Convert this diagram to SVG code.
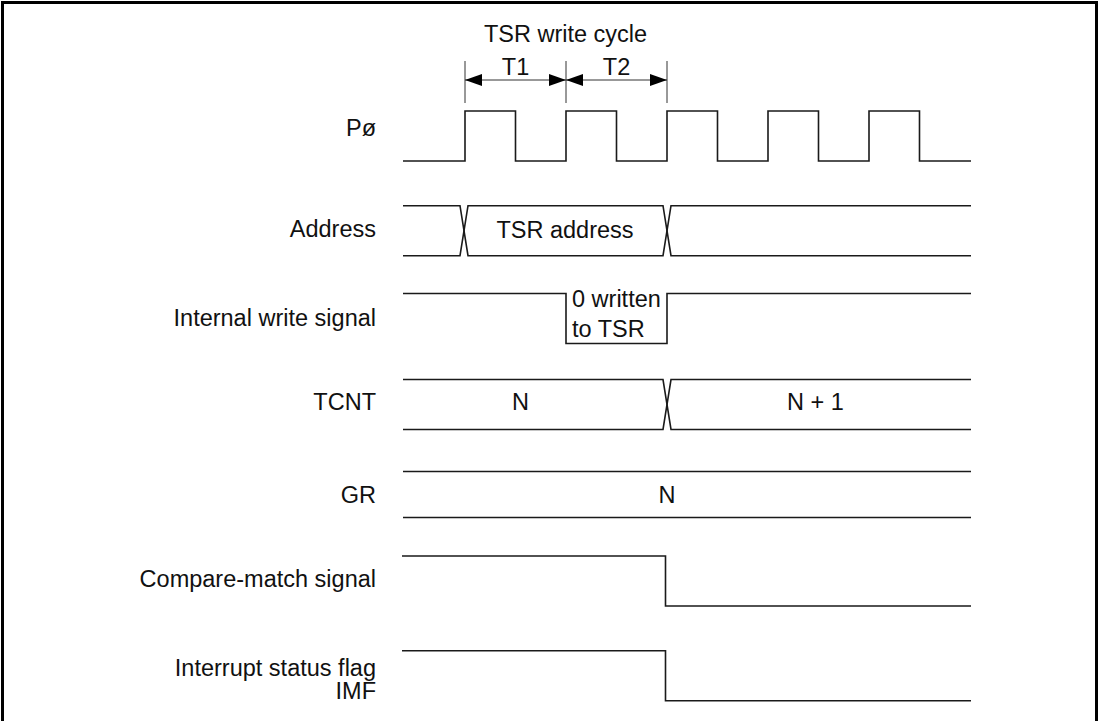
<svg xmlns="http://www.w3.org/2000/svg" width="1102" height="721" viewBox="0 0 1102 721">
<defs>
<style>
.lbl{font-family:"Liberation Sans",Arial,sans-serif;font-size:23.5px;fill:#111;}
.end{text-anchor:end;}
.mid{text-anchor:middle;}
.w{fill:none;stroke:#1a1a1a;stroke-width:1.6;stroke-linejoin:miter;}
.dim{fill:none;stroke:#333;stroke-width:1;}
.frame{fill:none;stroke:#000;stroke-width:3;}
</style>
<marker id="ah" viewBox="0 0 17 12" refX="17" refY="6" markerWidth="17" markerHeight="12" markerUnits="userSpaceOnUse" orient="auto-start-reverse">
<path d="M0,0 L17,6 L0,12 Z" fill="#000"/>
</marker>
</defs>
<rect width="1102" height="721" fill="#fff"/>
<path class="frame" d="M2.5,721 V2.5 H1096.5 V721"/>

<g id="cycle-annotation">
<text class="lbl mid" x="565.5" y="42">TSR write cycle</text>
<text class="lbl mid" x="515.5" y="75">T1</text>
<text class="lbl mid" x="616.5" y="75">T2</text>
</g>

<g id="connectors">
<line class="dim" x1="465" y1="61" x2="465" y2="103"/>
<line class="dim" x1="566" y1="61" x2="566" y2="103"/>
<line class="dim" x1="667" y1="61" x2="667" y2="103"/>
<line class="dim" x1="465" y1="80" x2="566" y2="80" marker-start="url(#ah)" marker-end="url(#ah)"/>
<line class="dim" x1="566" y1="80" x2="667" y2="80" marker-start="url(#ah)" marker-end="url(#ah)"/>
</g>

<g id="clock">
<text class="lbl end" x="376" y="136">Pø</text>
<path class="w" d="M403,161 H465 V111 H515.5 V161 H566 V111 H616.5 V161 H667 V111 H717.5 V161 H768 V111 H818.5 V161 H869 V111 H919.5 V161 H971"/>
</g>

<g id="address">
<text class="lbl end" x="376" y="237">Address</text>
<path class="w" d="M403,205.7 H460 L468,255.7 H663 L671,205.7 H971"/>
<path class="w" d="M403,255.7 H460 L468,205.7 H663 L671,255.7 H971"/>
<text class="lbl mid" x="565" y="238">TSR address</text>
</g>

<g id="internal-write">
<text class="lbl end" x="376" y="326">Internal write signal</text>
<path class="w" d="M403,293.5 H566 V343.5 H667 V293.5 H971"/>
<text class="lbl" x="572" y="307">0 written</text>
<text class="lbl" x="572" y="337">to TSR</text>
</g>

<g id="tcnt">
<text class="lbl end" x="376" y="409.5">TCNT</text>
<path class="w" d="M403,379.5 H663 L671,429.5 H971"/>
<path class="w" d="M403,429.5 H663 L671,379.5 H971"/>
<text class="lbl mid" x="520.5" y="410">N</text>
<text class="lbl mid" x="815.5" y="410">N + 1</text>
</g>

<g id="gr">
<text class="lbl end" x="376" y="502.5">GR</text>
<path class="w" d="M403,471.5 H971"/>
<path class="w" d="M403,517.5 H971"/>
<text class="lbl mid" x="667" y="503">N</text>
</g>

<g id="compare-match">
<text class="lbl end" x="376" y="587">Compare-match signal</text>
<path class="w" d="M402,556 H665.5 V606 H971"/>
</g>

<g id="imf">
<text class="lbl end" x="376" y="676">Interrupt status flag</text>
<text class="lbl end" x="376" y="699">IMF</text>
<path class="w" d="M402,650.7 H665.5 V700.7 H971"/>
</g>
</svg>
